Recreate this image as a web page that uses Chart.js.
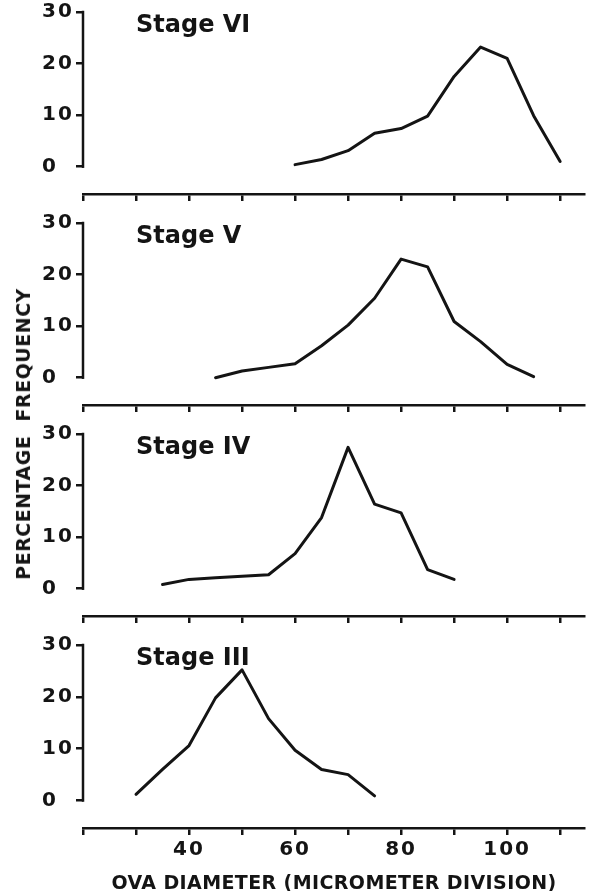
<!DOCTYPE html>
<html>
<head>
<meta charset="utf-8">
<script src="https://cdn.jsdelivr.net/npm/chart.js@4.4.0/dist/chart.umd.min.js"></script>
<style>
  html, body { margin: 0; padding: 0; background: #fff; }
  body { width: 591px; height: 891px; position: relative; overflow: hidden; font-family: "DejaVu Sans", sans-serif; color: #141414; }
  .panel { position: absolute; left: 0; width: 591px; }
  .panel canvas { display: block; }
  #yTitle { position: absolute; left: 23px; top: 434px; transform: translate(-50%, -50%) rotate(-90deg); white-space: pre; font-weight: bold; font-size: 19px; letter-spacing: 0.5px; }
  #xTitle { position: absolute; left: 334px; top: 882px; transform: translate(-50%, -50%); white-space: pre; font-weight: bold; font-size: 19px; letter-spacing: 0.4px; }
</style>
</head>
<body>
<div class="panel" style="top:-8px;height:214px"><canvas id="stage6"></canvas></div>
<div class="panel" style="top:203px;height:214px"><canvas id="stage5"></canvas></div>
<div class="panel" style="top:414px;height:214px"><canvas id="stage4"></canvas></div>
<div class="panel" style="top:625px;height:270px"><canvas id="stage3"></canvas></div>
<div id="yTitle">PERCENTAGE  FREQUENCY</div>
<div id="xTitle">OVA DIAMETER (MICROMETER DIVISION)</div>

<script>
// ova diameter (micrometer divisions) and % frequency
const stage6Diameter = [60, 65, 70, 75, 80, 85, 90, 95, 100, 105, 110];
const stage6Percent  = [0.4, 1.4, 3.1, 6.5, 7.4, 9.8, 17.5, 23.2, 21.0, 9.9, 1.0];

const stage5Diameter = [45, 50, 55, 60, 65, 70, 75, 80, 85, 90, 95, 100, 105];
const stage5Percent  = [0, 1.3, 2.0, 2.7, 6.2, 10.2, 15.4, 23.0, 21.5, 10.9, 7.0, 2.6, 0.2];

const stage4Diameter = [35, 40, 45, 50, 55, 60, 65, 70, 75, 80, 85, 90];
const stage4Percent  = [0.8, 1.8, 2.1, 2.4, 2.7, 6.8, 13.8, 27.4, 16.4, 14.7, 3.7, 1.8];

const stage3Diameter = [30, 35, 40, 45, 50, 55, 60, 65, 70, 75];
const stage3Percent  = [1.2, 6.0, 10.6, 19.8, 25.2, 15.8, 9.7, 6.0, 5.0, 0.9];

const xTickValues = [20, 30, 40, 50, 60, 70, 80, 90, 100, 110];
const xTickLabels = [40, 60, 80, 100];
const yTickValues = [0, 10, 20, 30];

const INK = '#141414';
const TICK_FONT = { family: '"DejaVu Sans", sans-serif', size: 20, weight: 'bold' };

// y axis line only runs 0..30, plus the stage name inside the panel
const panelPlugin = {
    id: 'stageLabel',
    beforeDraw(chart) {
        chart.ctx.letterSpacing = '2px';
    },
    afterDraw(chart, args, opts) {
        const ctx = chart.ctx;
        const x = chart.scales.x;
        const y = chart.scales.y;
        ctx.save();
        ctx.strokeStyle = INK;
        ctx.lineWidth = 2.5;
        ctx.lineCap = 'square';
        ctx.beginPath();
        ctx.moveTo(x.getPixelForValue(20), y.getPixelForValue(0));
        ctx.lineTo(x.getPixelForValue(20), y.getPixelForValue(30));
        ctx.stroke();

        ctx.letterSpacing = '0px';
        ctx.font = 'bold 24px "DejaVu Sans", sans-serif';
        ctx.fillStyle = INK;
        ctx.textAlign = 'left';
        ctx.textBaseline = 'alphabetic';
        ctx.fillText(opts.text, x.getPixelForValue(30), y.getPixelForValue(26.2));
        ctx.restore();
    }
};

function makeChart(canvasId, label, diameters, percents, showXLabels) {
    return new Chart(document.getElementById(canvasId), {
        type: 'line',
        data: {
            datasets: [{
                data: diameters.map((d, i) => ({ x: d, y: percents[i] })),
                borderColor: INK,
                borderWidth: 3,
                pointRadius: 0,
                tension: 0,
                fill: false,
                borderJoinStyle: 'round',
                borderCapStyle: 'round'
            }]
        },
        options: {
            responsive: true,
            maintainAspectRatio: false,
            animation: false,
            layout: { padding: { top: 20, left: 42, right: 7, bottom: 0 } },
            plugins: {
                legend: { display: false },
                tooltip: { enabled: false },
                stageLabel: { text: label }
            },
            scales: {
                x: {
                    type: 'linear',
                    min: 20,
                    max: 114.5,
                    afterBuildTicks: s => { s.ticks = xTickValues.map(v => ({ value: v })); },
                    afterFit: s => { s.height = showXLabels ? 67 : 10; },
                    border: { display: true, color: INK, width: 2.5 },
                    grid: { drawOnChartArea: false, drawTicks: true, tickLength: 7, color: INK, lineWidth: 2.5 },
                    ticks: {
                        display: showXLabels,
                        padding: 3,
                        autoSkip: false,
                        maxRotation: 0,
                        font: TICK_FONT,
                        color: INK,
                        callback: v => xTickLabels.includes(v) ? String(v) : ''
                    }
                },
                y: {
                    min: -5.3,
                    max: 30,
                    afterBuildTicks: s => { s.ticks = yTickValues.map(v => ({ value: v })); },
                    afterFit: s => { s.width = 41; },
                    border: { display: false },
                    grid: { drawOnChartArea: false, drawTicks: true, tickLength: 7, color: INK, lineWidth: 2.5 },
                    ticks: { crossAlign: 'far', padding: 0, font: TICK_FONT, color: INK }
                }
            }
        },
        plugins: [panelPlugin]
    });
}

makeChart('stage6', 'Stage VI', stage6Diameter, stage6Percent, false);
makeChart('stage5', 'Stage V', stage5Diameter, stage5Percent, false);
makeChart('stage4', 'Stage IV', stage4Diameter, stage4Percent, false);
makeChart('stage3', 'Stage III', stage3Diameter, stage3Percent, true);
</script>
</body>
</html>
